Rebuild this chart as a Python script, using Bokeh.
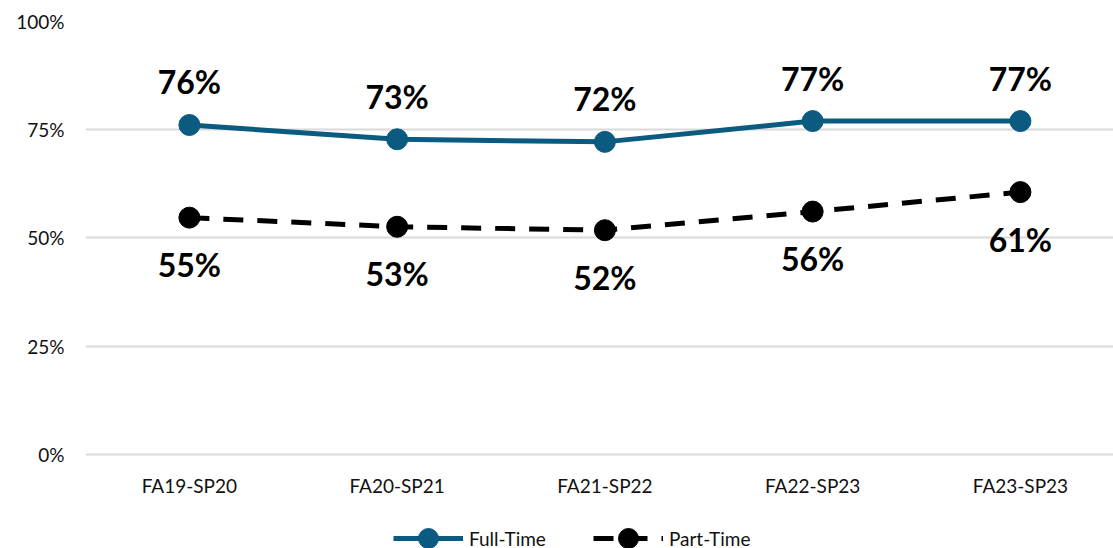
from bokeh.plotting import figure
from bokeh.models import Range1d, FixedTicker, Legend, LegendItem, ColumnDataSource
from bokeh.core.properties import value
from bokeh.embed import file_html
from bokeh.resources import INLINE

categories = ["FA19-SP20", "FA20-SP21", "FA21-SP22", "FA22-SP23", "FA23-SP23"]
full_time = [76.1, 72.8, 72.2, 77.0, 77.0]
part_time = [54.7, 52.6, 51.8, 56.1, 60.6]
y_ticks = [0, 25, 50, 75, 100]

FONT = "Lato"
FT_COLOR = "#0B5A80"
PT_COLOR = "#000000"
DASH = "20 14"

xs = list(range(len(categories)))
src = ColumnDataSource(dict(
    x=xs,
    base=[0] * len(categories),
    cat=categories,
    ft=full_time,
    pt=part_time,
    ft_lab=[f"{v:.0f}%" for v in full_time],
    pt_lab=[f"{v:.0f}%" for v in part_time],
))

# frame extends below the 0% line to hold the category labels and the legend
p = figure(frame_width=1028, frame_height=527,
           x_range=Range1d(-0.5, 4.448), y_range=Range1d(-21.71, 100),
           output_backend="svg", toolbar_location=None,
           min_border_left=85, min_border_right=0, min_border_top=21, min_border_bottom=0)
p.outline_line_color = None

p.xgrid.visible = False
p.ygrid.grid_line_color = "#d9d9d9"
p.ygrid.grid_line_width = 2
p.xaxis.visible = False

p.yaxis.ticker = FixedTicker(ticks=y_ticks)
p.yaxis.major_label_overrides = {t: f"{t}%" for t in y_ticks}
ax = p.yaxis[0]
ax.axis_line_color = None
ax.major_tick_line_color = None
ax.minor_tick_line_color = None
ax.major_tick_in = 0
ax.major_tick_out = 0
ax.minor_tick_in = 0
ax.minor_tick_out = 0
ax.major_label_text_font = FONT
ax.major_label_text_font_size = "19px"
ax.major_label_text_color = "#111111"
ax.major_label_standoff = 21

# category labels under the 0% line
p.text("x", "base", text="cat", source=src, y_offset=31,
       text_font=value(FONT), text_font_size="19px", text_color="#111111",
       text_align="center", text_baseline="middle")

ft_line = p.line("x", "ft", source=src, line_color=FT_COLOR, line_width=5)
ft_dot = p.scatter("x", "ft", source=src, size=21, fill_color=FT_COLOR, line_color=FT_COLOR)
pt_line = p.line("x", "pt", source=src, line_color=PT_COLOR, line_width=5, line_dash=DASH)
pt_dot = p.scatter("x", "pt", source=src, size=21, fill_color=PT_COLOR, line_color=PT_COLOR)

p.text("x", "ft", text="ft_lab", source=src, y_offset=-43,
       text_font=value(FONT), text_font_style="bold", text_font_size="32px",
       text_align="center", text_baseline="middle", text_color="#000000")
p.text("x", "pt", text="pt_lab", source=src, y_offset=47,
       text_font=value(FONT), text_font_style="bold", text_font_size="32px",
       text_align="center", text_baseline="middle", text_color="#000000")

legend = Legend(items=[
    LegendItem(label="Full-Time", renderers=[ft_line, ft_dot]),
    LegendItem(label="Part-Time", renderers=[pt_line, pt_dot]),
], location=(308, -15), orientation="horizontal")
legend.glyph_width = 70
legend.glyph_height = 50
legend.label_height = 50
legend.label_standoff = 6
legend.spacing = 47
legend.padding = 0
legend.margin = 0
legend.border_line_color = None
legend.background_fill_alpha = 0
legend.label_text_font = FONT
legend.label_text_font_size = "19px"
legend.label_text_color = "#111111"
p.add_layout(legend, "center")

open("out.html", "w").write(file_html(p, INLINE))
